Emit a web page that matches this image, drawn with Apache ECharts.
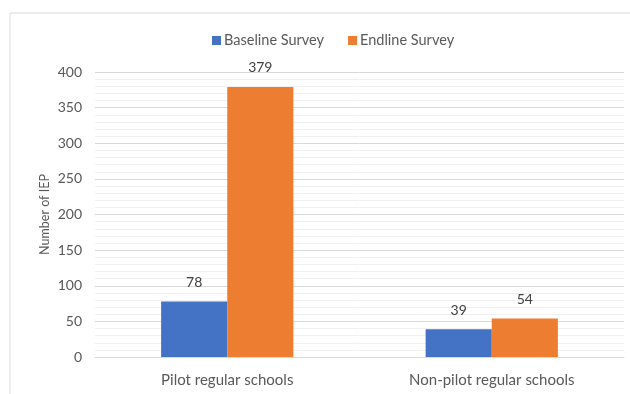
<!DOCTYPE html>
<html><head><meta charset="utf-8">
<script src="https://cdn.jsdelivr.net/npm/echarts@6/dist/echarts.min.js"></script>
<style>html,body{margin:0;padding:0;background:#fff}#c{width:630px;height:394px}</style>
</head><body><div id="c"></div>
<script>
const categories = ['Pilot regular schools', 'Non-pilot regular schools'];
const baseline = [78, 39];
const endline = [379, 54];
const seriesNames = ['Baseline Survey', 'Endline Survey'];
const yTicks = [0, 50, 100, 150, 200, 250, 300, 350, 400];

const chart = echarts.init(document.getElementById('c'), null, {renderer: 'canvas'});
const font = 'Lato, "Open Sans", sans-serif';
chart.setOption({
  animation: false,
  textStyle: {fontFamily: font},
  graphic: [{type: 'rect', shape: {x: 10, y: 13, width: 700, height: 500}, style: {fill: 'none', stroke: '#d9d9d9', lineWidth: 1}, silent: true, z: -1}],
  legend: {
    top: 28, left: 207, itemWidth: 9, itemHeight: 9, itemGap: 24,
    icon: 'rect',
    textStyle: {fontSize: 14.5, color: '#595959', fontFamily: font, padding: [0, 0, 0, -2]},
    data: seriesNames
  },
  grid: {left: 95, right: 6, top: 72, bottom: 37, containLabel: false},
  xAxis: {
    type: 'category', data: categories,
    axisLine: {lineStyle: {color: '#d9d9d9'}},
    axisTick: {show: false},
    axisLabel: {fontSize: 15, color: '#595959', margin: 16, fontFamily: font}
  },
  yAxis: {
    type: 'value', min: yTicks[0], max: yTicks[yTicks.length - 1], interval: 50,
    name: 'Number of IEP', nameLocation: 'middle', nameGap: 44, nameRotate: 90,
    nameMoveOverlap: false,
    nameTextStyle: {fontSize: 12.5, color: '#595959', fontFamily: font},
    axisLine: {show: false}, axisTick: {show: false},
    axisLabel: {fontSize: 14, color: '#595959', margin: 13, fontFamily: font},
    splitLine: {lineStyle: {color: '#d9d9d9'}},
    minorTick: {show: false, splitNumber: 5},
    minorSplitLine: {show: true, lineStyle: {color: '#f0f0f0'}}
  },
  series: [
    {name: seriesNames[0], type: 'bar', data: baseline, barGap: '0%', barCategoryGap: '50%',
     itemStyle: {color: '#4472C4'},
     label: {show: true, position: 'top', distance: 12, fontSize: 14, color: '#404040', fontFamily: font}},
    {name: seriesNames[1], type: 'bar', data: endline, barGap: '0%', barCategoryGap: '50%',
     itemStyle: {color: '#ED7D31'},
     label: {show: true, position: 'top', distance: 12, fontSize: 14, color: '#404040', fontFamily: font}}
  ]
});
</script></body></html>
